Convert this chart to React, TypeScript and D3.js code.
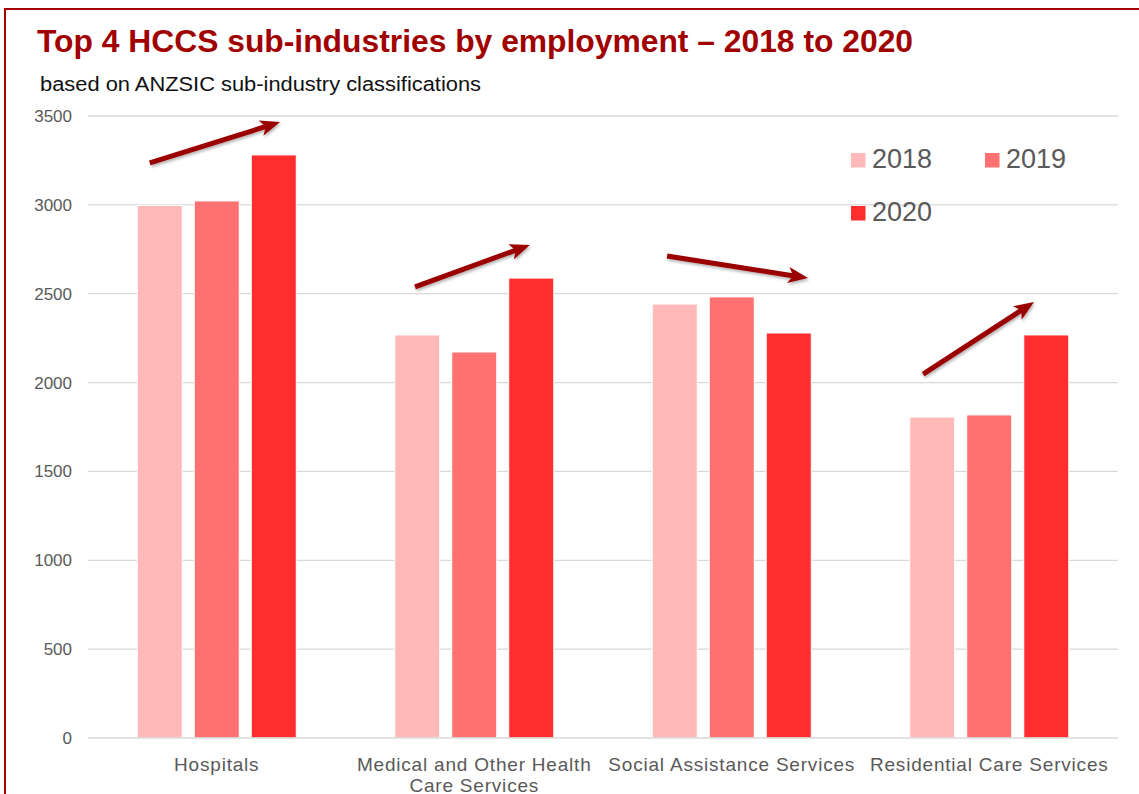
import React from "react";
import * as d3 from "d3";

const categories = [
  "Hospitals",
  "Medical and Other Health Care Services",
  "Social Assistance Services",
  "Residential Care Services",
];
const categoryLines = [
  ["Hospitals"],
  ["Medical and Other Health", "Care Services"],
  ["Social Assistance Services"],
  ["Residential Care Services"],
];
const years = ["2018", "2019", "2020"];
const values2018 = [2997, 2268, 2442, 1806];
const values2019 = [3022, 2172, 2482, 1818];
const values2020 = [3281, 2588, 2279, 2268];
const seriesValues = [values2018, values2019, values2020];
const colors = ["#FFB9B9", "#FF7171", "#FF2D2D"];
const yTicks = [0, 500, 1000, 1500, 2000, 2500, 3000, 3500];

// trend arrows: [start fraction within band, start value, end fraction, end value]
const arrowStartFrac = [0.24, 0.27, 0.249, 0.243];
const arrowStartVal = [3236, 2538, 2712, 2048];
const arrowEndFrac = [0.746, 0.716, 0.796, 0.674];
const arrowEndVal = [3466, 2774, 2588, 2453];

const W = 1139;
const H = 794;
const plotLeft = 88;
const plotRight = 1118;
const plotTop = 116;
const plotBottom = 738;

export default function App() {
  const x = d3.scaleBand<string>().domain(categories).range([plotLeft, plotRight]).padding(0);
  const y = d3.scaleLinear().domain([0, 3500]).range([plotBottom, plotTop]);
  const bw = x.bandwidth();
  const barW = bw * 0.1748;
  const step = bw * 0.2214;
  const groupW = step * 2 + barW;
  const axisColor = "#595959";
  const font = "'Liberation Sans', Arial, sans-serif";

  const arrowHead = (x1: number, y1: number, x2: number, y2: number) => {
    const ang = Math.atan2(y2 - y1, x2 - x1);
    const len = 20;
    const half = 8;
    const bx = x2 - len * Math.cos(ang);
    const by = y2 - len * Math.sin(ang);
    const px = -Math.sin(ang) * half;
    const py = Math.cos(ang) * half;
    return `M${x2},${y2}L${bx + px},${by + py}L${bx + len * 0.25 * Math.cos(ang)},${by + len * 0.25 * Math.sin(ang)}L${bx - px},${by - py}Z`;
  };

  return (
    <svg
      width={W}
      height={H}
      style={{ position: "absolute", left: 0, top: 0, display: "block", background: "#fff" }}
    >
      <defs>
        <filter id="shadow" x="-20%" y="-50%" width="140%" height="200%">
          <feDropShadow dx="1" dy="2" stdDeviation="1.5" floodColor="#000" floodOpacity="0.3" />
        </filter>
      </defs>
      <rect x={0} y={0} width={W} height={H} fill="#fff" />
      {/* frame */}
      <path d={`M5,${H}L5,9L${W},9`} fill="none" stroke="#A50000" strokeWidth={2} />

      <text
        x={37}
        y={52}
        fontFamily={font}
        fontWeight="bold"
        fontSize={32}
        fill="#A00000"
        textLength={876}
        lengthAdjust="spacingAndGlyphs"
      >
        Top 4 HCCS sub-industries by employment – 2018 to 2020
      </text>
      <text
        x={40}
        y={91}
        fontFamily={font}
        fontSize={19.5}
        fill="#111"
        textLength={441}
        lengthAdjust="spacingAndGlyphs"
      >
        based on ANZSIC sub-industry classifications
      </text>

      {/* gridlines */}
      {yTicks.map((t) => (
        <g key={t}>
          {t > 0 && (
            <line x1={plotLeft} x2={plotRight} y1={y(t)} y2={y(t)} stroke="#D9D9D9" strokeWidth={1.3} />
          )}
          <text
            x={72}
            y={y(t) + 6}
            textAnchor="end"
            fontFamily={font}
            fontSize={17}
            fill={axisColor}
          >
            {t}
          </text>
        </g>
      ))}

      {/* bars */}
      {categories.map((c, ci) => {
        const cx = (x(c) as number) + bw / 2;
        const start = cx - groupW / 2;
        return seriesValues.map((vals, si) => (
          <rect
            key={c + si}
            x={start + si * step}
            y={y(vals[ci])}
            width={barW}
            height={y(0) - y(vals[ci])}
            fill={colors[si]}
            stroke="#fff"
            strokeWidth={1}
          />
        ));
      })}

      <line x1={plotLeft} x2={plotRight} y1={y(0)} y2={y(0)} stroke="#D9D9D9" strokeWidth={1.3} />

      {/* x labels */}
      {categories.map((c, ci) => {
        const cx = (x(c) as number) + bw / 2;
        return (
          <text
            key={c}
            textAnchor="middle"
            fontFamily={font}
            fontSize={19}
            letterSpacing={0.8}
            fill={axisColor}
          >
            {categoryLines[ci].map((ln, li) => (
              <tspan key={li} x={cx} y={771 + li * 21}>
                {ln}
              </tspan>
            ))}
          </text>
        );
      })}

      {/* arrows */}
      {categories.map((c, ci) => {
        const b = x(c) as number;
        const x1 = b + arrowStartFrac[ci] * bw;
        const y1 = y(arrowStartVal[ci]);
        const x2 = b + arrowEndFrac[ci] * bw;
        const y2 = y(arrowEndVal[ci]);
        const ang = Math.atan2(y2 - y1, x2 - x1);
        const ex = x2 - 14 * Math.cos(ang);
        const ey = y2 - 14 * Math.sin(ang);
        return (
          <g key={"a" + c} filter="url(#shadow)">
            <line x1={x1} y1={y1} x2={ex} y2={ey} stroke="#9B0000" strokeWidth={5} />
            <path d={arrowHead(x1, y1, x2, y2)} fill="#9B0000" />
          </g>
        );
      })}

      {/* legend */}
      {years.map((yr, i) => {
        const lx = i === 1 ? 985 : 851;
        const ly = i === 2 ? 206 : 153;
        return (
          <g key={yr}>
            <rect x={lx} y={ly} width={14.5} height={14.5} fill={colors[i]} />
            <text x={lx + 21} y={ly + 15} fontFamily={font} fontSize={27} fill={axisColor}>
              {yr}
            </text>
          </g>
        );
      })}
    </svg>
  );
}
